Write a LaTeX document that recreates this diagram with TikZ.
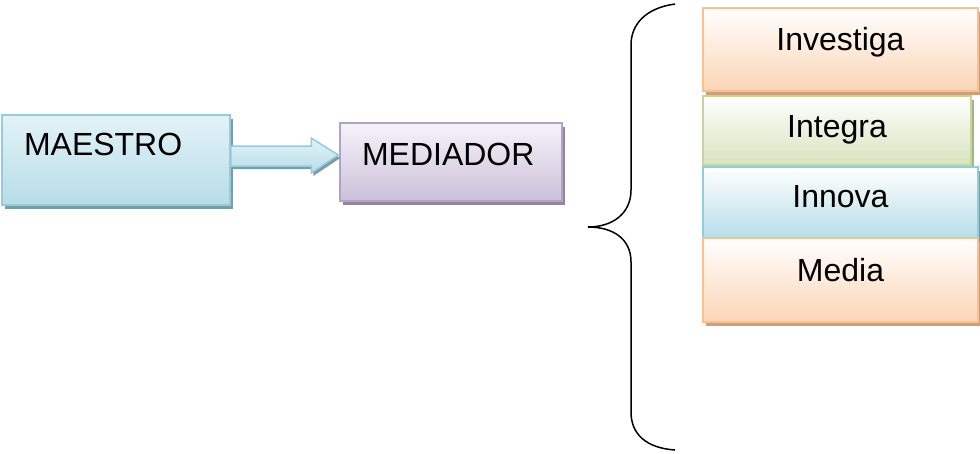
\documentclass[tikz,border=0pt]{standalone}
\usepackage{fontspec}
\setmainfont{Liberation Sans}
\usetikzlibrary{positioning, calc, shadows}

\definecolor{blueline}{RGB}{147,205,221}
\definecolor{bluetop}{RGB}{226,243,247}
\definecolor{bluebot}{RGB}{183,221,232}
\definecolor{blueshadow}{RGB}{125,155,165}
\definecolor{lilacline}{RGB}{179,162,199}
\definecolor{lilactop}{RGB}{246,243,249}
\definecolor{lilacbot}{RGB}{204,192,218}
\definecolor{lilacshadow}{RGB}{145,135,155}
\definecolor{orangeline}{RGB}{250,192,144}
\definecolor{orangebot}{RGB}{251,213,181}
\definecolor{orangeshadow}{RGB}{205,160,125}
\definecolor{greenline}{RGB}{195,214,155}
\definecolor{greenbot}{RGB}{215,228,189}
\definecolor{greenshadow}{RGB}{165,180,135}

\begin{document}
\begin{tikzpicture}[x=1pt, y=-1pt,
    box/.style={draw, line width=1.5pt, inner ysep=0pt, text depth=22pt,
      font=\fontsize{32}{38}\selectfont},
    leftbox/.style={box, align=left, inner xsep=22pt},
    stackbox/.style={box, align=center, inner xsep=0pt},
    bluebox/.style={draw=blueline, top color=bluetop, bottom color=bluebot,
      drop shadow={shadow xshift=3pt, shadow yshift=-4pt, opacity=1, fill=blueshadow}},
    lilacbox/.style={draw=lilacline, top color=lilactop, bottom color=lilacbot,
      drop shadow={shadow xshift=3pt, shadow yshift=-4pt, opacity=1, fill=lilacshadow}},
    orangebox/.style={draw=orangeline, top color=white, bottom color=orangebot,
      drop shadow={shadow xshift=3pt, shadow yshift=-4pt, opacity=1, fill=orangeshadow}},
    greenbox/.style={draw=greenline, top color=white, bottom color=greenbot,
      drop shadow={shadow xshift=3pt, shadow yshift=-4pt, opacity=1, fill=greenshadow}},
    cyanbox/.style={draw=blueline, top color=white, bottom color=bluebot,
      drop shadow={shadow xshift=3pt, shadow yshift=-4pt, opacity=1, fill=blueshadow}},
    blockarrow/.style={draw=blueline, line width=1.5pt, top color=bluetop, bottom color=bluebot,
      drop shadow={shadow xshift=2pt, shadow yshift=-3pt, opacity=1, fill=blueshadow}},
    brace/.style={draw=black, line width=1.5pt}]
  \useasboundingbox (0,0) rectangle (980,453);

  \node[leftbox, bluebox, text width=184pt, minimum height=90pt, text height=22pt, text depth=32pt] (maestro) at (116,160) {MAESTRO};
  \node[leftbox, lilacbox, text width=178pt, minimum height=78pt, text height=28pt] (mediador) at (451,162) {MEDIADOR};

  \node[stackbox, orangebox, text width=275pt, minimum height=83pt, text height=23pt] (investiga) at (840.5,49.5) {Investiga};
  \node[stackbox, greenbox, text width=268pt, minimum height=69pt, text height=35pt] (integra) at (837,130.5) {Integra};
  \node[stackbox, cyanbox, text width=275pt, minimum height=71pt, text height=31pt] (innova) at (840.5,202.5) {Innova};
  \node[stackbox, orangebox, text width=275pt, minimum height=84pt, text height=24pt] (media) at (840.5,280) {Media};

  % block arrow from maestro to mediador
  \path[blockarrow] ($(maestro.east)+(0,-14)$) -- ($(mediador.west)+(-28,-16)$)
    -- ($(mediador.west)+(-28,-24)$) -- ($(mediador.west)+(-1,-7)$)
    -- ($(mediador.west)+(-28,11)$) -- ($(mediador.west)+(-28,4)$)
    -- ($(maestro.east)+(0,6)$) -- cycle;

  % brace
  \draw[brace] (675,4) .. controls (646,8) and (631,24) .. (631,45) -- (631,190)
    .. controls (631,214) and (612,227) .. (588,227)
    .. controls (612,227) and (631,238) .. (631,262) -- (631,412)
    .. controls (631,434) and (646,448) .. (675,450);
\end{tikzpicture}
\end{document}
